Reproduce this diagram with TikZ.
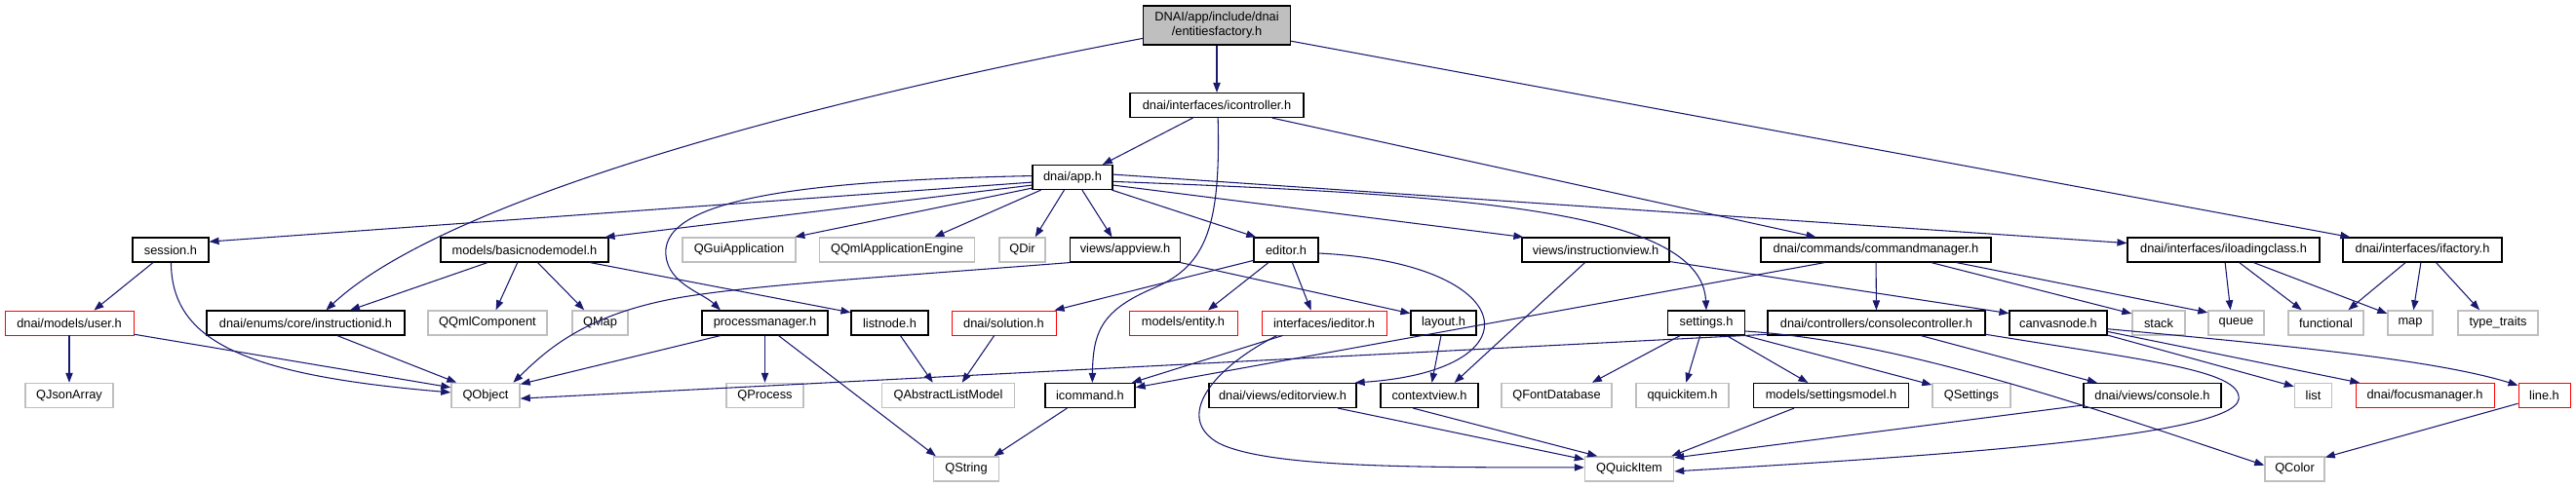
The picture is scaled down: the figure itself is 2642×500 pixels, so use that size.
\documentclass[tikz,border=0pt]{standalone}
\usepackage{fontspec}
\setmainfont{Liberation Sans}
\usetikzlibrary{arrows.meta}
\definecolor{dxblue}{HTML}{191970}
\definecolor{extgray}{HTML}{BFBFBF}
\definecolor{rootfill}{HTML}{BFBFBF}

\begin{document}
\begin{tikzpicture}[x=0.75pt,y=-0.75pt,font=\fontsize{9.6}{11}\selectfont,
  >={Triangle[length=7.5pt,width=5.5pt]},
  box/.style={draw,rectangle,inner sep=0pt,minimum height=18.75pt,line width=0.85pt},
  hdr/.style={box,draw=black},
  ext/.style={box,draw=extgray,line width=1.1pt},
  miss/.style={box,draw=red,line width=0.7pt},
  bw/.style={minimum width=#1*0.75pt},
  dep/.style={->,draw=dxblue,line width=0.8pt}]
  \useasboundingbox (0,0) rectangle (2642,500);

  % top of the graph
  \node[hdr,fill=rootfill,bw=151,minimum height=30pt,align=center] (root) at (1248,26) {DNAI/app/include/dnai\\/entitiesfactory.h};
  \node[hdr,bw=178] (icontroller) at (1248,108) {dnai/interfaces/icontroller.h};
  \node[hdr,bw=82] (app) at (1100,182) {dnai/app.h};

  % row 3
  \node[hdr,bw=78] (session) at (175,256.5) {session.h};
  \node[hdr,bw=172] (basicnodemodel) at (538,256.5) {models/basicnodemodel.h};
  \node[ext,bw=116] (qguiapp) at (758,256.5) {QGuiApplication};
  \node[ext,bw=159] (qqmlengine) at (920,256.5) {QQmlApplicationEngine};
  \node[ext,bw=47] (qdir) at (1048.5,256.5) {QDir};
  \node[hdr,bw=113] (appview) at (1154,256.5) {views/appview.h};
  \node[hdr,bw=66] (editor) at (1319,256.5) {editor.h};
  \node[hdr,bw=151] (instructionview) at (1636.5,256.5) {views/instructionview.h};
  \node[hdr,bw=236] (commandmanager) at (1924,256.5) {dnai/commands/commandmanager.h};
  \node[hdr,bw=197] (iloadingclass) at (2280.5,256.5) {dnai/interfaces/iloadingclass.h};
  \node[hdr,bw=163] (ifactory) at (2484.5,256.5) {dnai/interfaces/ifactory.h};

  % row 4
  \node[miss,bw=132] (user) at (71,331.5) {dnai/models/user.h};
  \node[hdr,bw=203] (instructionid) at (313.5,331.5) {dnai/enums/core/instructionid.h};
  \node[ext,bw=122] (qqmlcomponent) at (500,331.5) {QQmlComponent};
  \node[ext,bw=57] (qmap) at (615.5,331.5) {QMap};
  \node[hdr,bw=129] (processmanager) at (784.5,331.5) {processmanager.h};
  \node[hdr,bw=79] (listnode) at (912.5,331.5) {listnode.h};
  \node[miss,bw=107] (solution) at (1029.5,331.5) {dnai/solution.h};
  \node[miss,bw=111] (entity) at (1213.5,331.5) {models/entity.h};
  \node[miss,bw=128] (ieditor) at (1358,331.5) {interfaces/ieditor.h};
  \node[hdr,bw=67] (layout) at (1480.5,331.5) {layout.h};
  \node[hdr,bw=79] (settings) at (1750,331.5) {settings.h};
  \node[hdr,bw=223] (consolecontroller) at (1924.5,331.5) {dnai/controllers/consolecontroller.h};
  \node[hdr,bw=100] (canvasnode) at (2111,331.5) {canvasnode.h};
  \node[ext,bw=54] (stack) at (2214,331.5) {stack};
  \node[ext,bw=57] (queue) at (2293.5,331.5) {queue};
  \node[ext,bw=77] (functional) at (2385.5,331.5) {functional};
  \node[ext,bw=46] (map) at (2472,331.5) {map};
  \node[ext,bw=82] (typetraits) at (2562,331.5) {type\_traits};

  % row 5
  \node[ext,bw=90] (qjsonarray) at (71,406) {QJsonArray};
  \node[ext,bw=70] (qobject) at (498,406) {QObject};
  \node[ext,bw=79] (qprocess) at (784.5,406) {QProcess};
  \node[ext,bw=136] (qabstractlistmodel) at (972.5,406) {QAbstractListModel};
  \node[hdr,bw=92] (icommand) at (1118,406) {icommand.h};
  \node[hdr,bw=151] (editorview) at (1315.5,406) {dnai/views/editorview.h};
  \node[hdr,bw=100] (contextview) at (1466,406) {contextview.h};
  \node[ext,bw=113] (qfontdatabase) at (1596.5,406) {QFontDatabase};
  \node[ext,bw=95] (quickitemhdr) at (1725.5,406) {qquickitem.h};
  \node[hdr,bw=159] (settingsmodel) at (1878,406) {models/settingsmodel.h};
  \node[ext,bw=80] (qsettings) at (2022,406) {QSettings};
  \node[hdr,bw=141] (console) at (2207.5,406) {dnai/views/console.h};
  \node[ext,bw=38] (list) at (2372.5,406) {list};
  \node[miss,bw=142] (focusmanager) at (2487,406) {dnai/focusmanager.h};
  \node[miss,bw=53] (lineh) at (2609.5,406) {line.h};

  % row 6
  \node[ext,bw=67] (qstring) at (991,481.5) {QString};
  \node[ext,bw=91] (quickitem) at (1671,481.5) {QQuickItem};
  \node[ext,bw=61] (qcolor) at (2353.5,481.5) {QColor};

  % root and icontroller
  \draw[dep] (root) -- (icontroller);
  \draw[dep] (root.190) .. controls (800,110) and (450,210) .. (instructionid.32);
  \draw[dep] (root.-12) -- (ifactory.170);
  \draw[dep] (icontroller.-152) -- (app.23);
  \draw[dep] (icontroller.-13) -- (commandmanager.168);
  \draw[dep] (icontroller.-85) .. controls (1252,230) and (1238,272) .. (1185,295)
    .. controls (1130,318) and (1121,340) .. (icommand.80);

  % app.h
  \draw[dep] (app.178) .. controls (850,185) and (690,200) .. (683,255)
    .. controls (680,290) and (720,300) .. (processmanager.164);
  \draw[dep] (app.187) -- (session.12);
  \draw[dep] (app.191) -- (basicnodemodel.9);
  \draw[dep] (app.195) -- (qguiapp.13);
  \draw[dep] (app.-158) -- (qqmlengine.19);
  \draw[dep] (app.-123) -- (qdir.45);
  \draw[dep] (app.-53) -- (appview.136);
  \draw[dep] (app.-18) -- (editor.157);
  \draw[dep] (app.-11) -- (instructionview.170);
  \draw[dep] (app.-6) .. controls (1500,200) and (1745,215) .. (settings.90);
  \draw[dep] (app.4) -- (iloadingclass.176);

  % left part
  \draw[dep] (session.-144) -- (user.27);
  \draw[dep] (session.-88) .. controls (176,350) and (250,385) .. (qobject.175);
  \draw[dep] (user) -- (qjsonarray);
  \draw[dep] (user.-10) -- (qobject.167);
  \draw[dep] (instructionid.-22) -- (qobject.156);
  \draw[dep] (basicnodemodel.-161) -- (instructionid.16);
  \draw[dep] (basicnodemodel.-119) -- (qqmlcomponent.57);
  \draw[dep] (basicnodemodel.-44) -- (qmap.141);
  \draw[dep] (basicnodemodel.-11) -- (listnode.165);
  \draw[dep] (processmanager.-164) -- (qobject.18);
  \draw[dep] (processmanager) -- (qprocess);
  \draw[dep] (processmanager.-43) -- (qstring.157);
  \draw[dep] (listnode.-50) -- (qabstractlistmodel.140);
  \draw[dep] (solution.-127) -- (qabstractlistmodel.43);
  \draw[dep] (icommand.-151) -- (qstring.25);

  % views and editor
  \draw[dep] (appview.-13) -- (layout.164);
  \draw[dep] (appview.-167) .. controls (900,285) and (780,292) .. (700,305)
    .. controls (600,322) and (560,360) .. (qobject.25);
  \draw[dep] (editor.198) -- (solution.14);
  \draw[dep] (editor.-144) -- (entity.27);
  \draw[dep] (editor.-64) -- (ieditor.136);
  \draw[dep] (editor.-6) .. controls (1560,270) and (1580,380) .. (editorview.10);
  \draw[dep] (ieditor.-163) -- (icommand.17);
  \draw[dep] (ieditor.-165) .. controls (1240,380) and (1205,430) .. (1250,455)
    .. controls (1300,480) and (1450,480) .. (quickitem.178);
  \draw[dep] (layout) -- (contextview);
  \draw[dep] (instructionview.-130) -- (contextview.27);
  \draw[dep] (instructionview.-9) -- (canvasnode.169);
  \draw[dep] (editorview.-13) -- (quickitem.168);
  \draw[dep] (contextview.-142) -- (quickitem.158);

  % settings
  \draw[dep] (settings.-154) -- (qfontdatabase.20);
  \draw[dep] (settings.-116) -- (quickitemhdr.74);
  \draw[dep] (settings.-32) -- (settingsmodel.151);
  \draw[dep] (settings.-18) -- (qsettings.165);
  \draw[dep] (settings.-12) .. controls (1950,350) and (2150,420) .. (qcolor.173);
  \draw[dep] (settingsmodel.-161) -- (quickitem.17);

  % commands and controllers
  \draw[dep] (commandmanager) -- (consolecontroller);
  \draw[dep] (commandmanager.-166) -- (icommand.10);
  \draw[dep] (commandmanager.-13) -- (stack.161);
  \draw[dep] (commandmanager.-9) -- (queue.160);
  \draw[dep] (consolecontroller.-174) -- (qobject.-5);
  \draw[dep] (consolecontroller.-16) -- (console.167);
  \draw[dep] (consolecontroller.-6) .. controls (2200,370) and (2300,380) .. (2296,410)
    .. controls (2290,450) and (1950,470) .. (quickitem.-3);
  \draw[dep] (console.188) -- (quickitem.14);

  % right part
  \draw[dep] (iloadingclass.-83) -- (queue.114);
  \draw[dep] (iloadingclass.-39) -- (functional.152);
  \draw[dep] (iloadingclass.-23) -- (map.158);
  \draw[dep] (ifactory.-143) -- (functional.30);
  \draw[dep] (ifactory.-97) -- (map.76);
  \draw[dep] (ifactory.-43) -- (typetraits.145);
  \draw[dep] (canvasnode.-14) -- (list.155);
  \draw[dep] (canvasnode.-10) -- (focusmanager.169);
  \draw[dep] (canvasnode.-7) .. controls (2350,355) and (2500,370) .. (lineh.159);
  \draw[dep] (lineh.-163) -- (qcolor.21);
\end{tikzpicture}
\end{document}
